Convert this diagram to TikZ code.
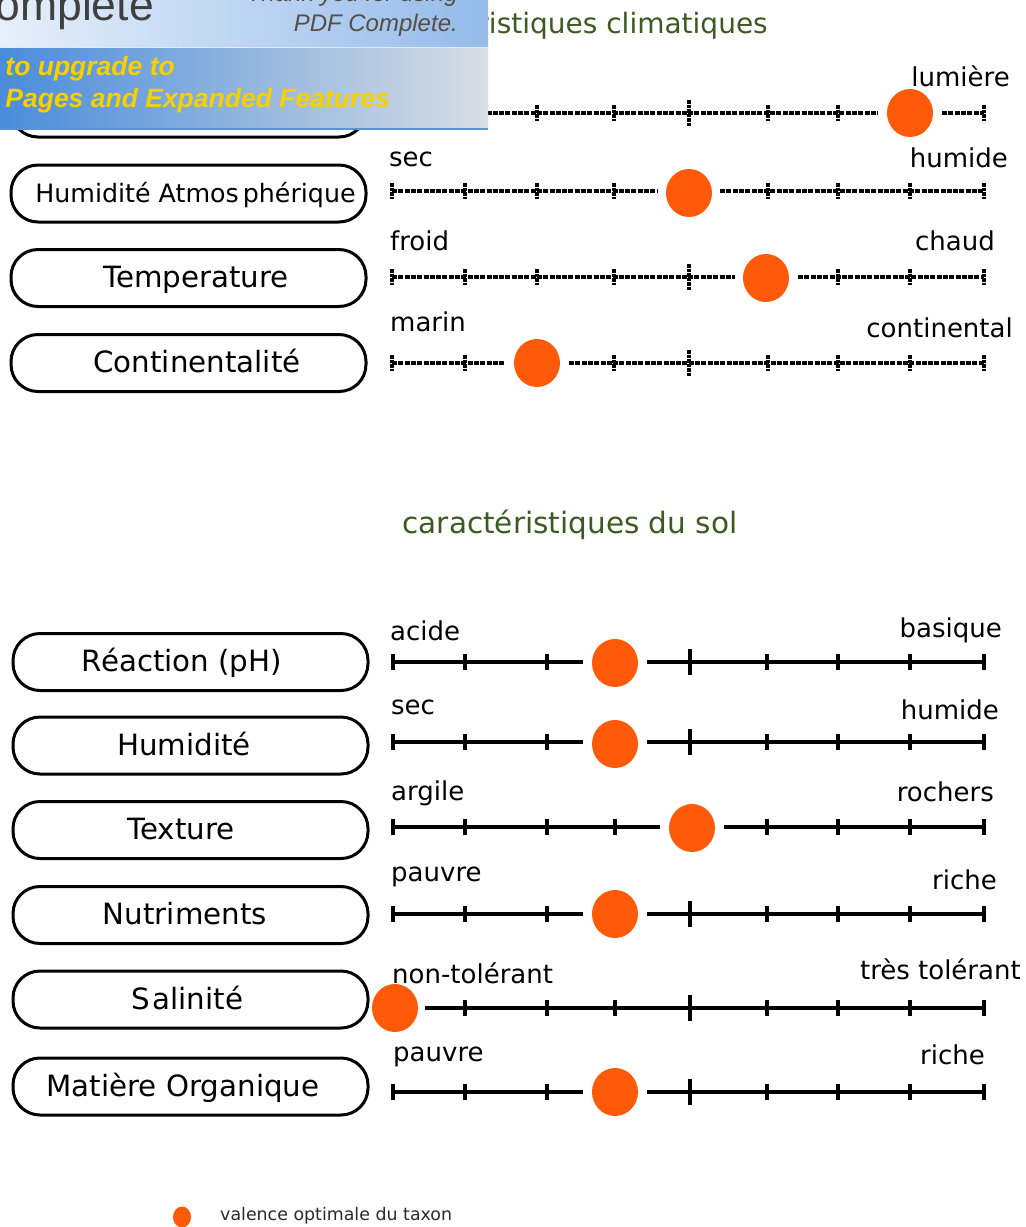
\documentclass[tikz,border=0pt]{standalone}
\usepackage{fontspec}
\setmainfont{DejaVu Sans}
\newfontfamily\bannerfont{Liberation Sans}
\usetikzlibrary{shapes.geometric}
\definecolor{dotorange}{HTML}{FF5A0A}
\definecolor{titlegreen}{HTML}{3D5A22}
\definecolor{bannerTopL}{HTML}{E6EFFA}
\definecolor{bannerTopR}{HTML}{94BBEA}
\definecolor{bannerBotL}{HTML}{4A8CDA}
\definecolor{bannerBotR}{HTML}{D9DEE4}
\definecolor{bannerline}{HTML}{5A93D8}
\definecolor{bannergray}{HTML}{404040}
\definecolor{bannerbrown}{HTML}{574E46}
\definecolor{banneryellow}{HTML}{F8D000}
\definecolor{legendgray}{HTML}{2A2A2A}
\newcommand{\tickrow}[3]{\foreach \tx in {#3} {\draw[#1] (\tx,{#2-8}) -- (\tx,{#2+8});}}
\newcommand{\bigtickat}[3]{\draw[#1] (#3,{#2-13}) -- (#3,{#2+13});}
\begin{document}
\begin{tikzpicture}[x=1pt,y=-1pt,
  catbox/.style={draw=black, line width=3pt, rounded corners=27pt, minimum width=355pt, minimum height=57pt, inner sep=0pt},
  boxtext/.style={font=\fontsize{29.3}{31}\selectfont, inner sep=0pt, anchor=base},
  endlabel/.style={font=\fontsize{26}{28}\selectfont, inner sep=0pt},
  titletext/.style={font=\fontsize{29.5}{31}\selectfont, text=titlegreen, inner sep=0pt, anchor=base},
  valdot/.style={ellipse, fill=dotorange, minimum width=46pt, minimum height=48pt, inner sep=0pt},
  climline/.style={line width=3.2pt, dash pattern=on 5pt off 1.3pt},
  climtick/.style={line width=3.2pt, dash pattern=on 3.5pt off 1pt},
  soilline/.style={line width=3.2pt},
  soiltick/.style={line width=3.2pt},
  legendtext/.style={font=\fontsize{17.4}{19}\selectfont, text=legendgray, inner sep=0pt}
]
\useasboundingbox (0,0) rectangle (1026,1227);
\fill[white] (0,0) rectangle (1026,1227);

% titles
\node[titletext, font=\fontsize{28}{30}\selectfont, anchor=base east] (titleclim) at (768,33) {caractéristiques climatiques};
\node[titletext] (titlesol) at (570,533) {caractéristiques du sol};

% ---------- climate boxes ----------
\node[catbox] (boxlum) at (188.5,108.5) {};
\node[catbox] (boxhum) at (188.5,193.5) {};
\node[boxtext, font=\fontsize{25.3}{27}\selectfont] (thum) at (195.5,202.5) {Humidité Atmos\kern4pt phérique};
\node[catbox] (boxtemp) at (188.5,278) {};
\node[boxtext] (ttemp) at (196,287.5) {Temperature};
\node[catbox] (boxcont) at (188.5,363) {};
\node[boxtext] (tcont) at (197,372.5) {Continentalité};

% ---------- climate scales ----------
% row 1 lumiere
\draw[climline] (392,113) -- (878,113);
\draw[climline] (942,113) -- (984,113);
\tickrow{climtick}{113}{392,465,537,614,768,838,984}
\bigtickat{climtick}{113}{689}
\node[valdot] (dotlum) at (910,113) {};
\node[endlabel, anchor=base east] (llum) at (1010,86) {lumière};
% row 2 humidite atmospherique
\draw[climline] (392,191) -- (658,191);
\draw[climline] (720,191) -- (984,191);
\tickrow{climtick}{191}{392,465,537,614,768,838,910,984}
\node[valdot] (dothum) at (689,193) {};
\node[endlabel, anchor=base west] (lsec1) at (389,166) {sec};
\node[endlabel, anchor=base east] (lhum1) at (1008,167) {humide};
% row 3 temperature
\draw[climline] (392,277) -- (735,277);
\draw[climline] (798,277) -- (984,277);
\tickrow{climtick}{277}{392,465,537,614,838,910,984}
\bigtickat{climtick}{277}{689}
\node[valdot] (dottemp) at (766,278) {};
\node[endlabel, anchor=base west] (lfroid) at (390,250) {froid};
\node[endlabel, anchor=base east] (lchaud) at (995,250) {chaud};
% row 4 continentalite
\draw[climline] (392,363) -- (505,363);
\draw[climline] (569,363) -- (984,363);
\tickrow{climtick}{363}{392,465,614,768,838,910,984}
\bigtickat{climtick}{363}{689}
\node[valdot] (dotcont) at (537,363) {};
\node[endlabel, anchor=base west] (lmarin) at (390,331) {marin};
\node[endlabel, anchor=base east] (lconti) at (1013,337) {continental};

% ---------- soil boxes ----------
\node[catbox] (boxph) at (190.5,662) {};
\node[boxtext] (tph) at (182,671.5) {Réaction (pH)};
\node[catbox] (boxhumsol) at (190.5,745.5) {};
\node[boxtext] (thumsol) at (184,755) {Humidité};
\node[catbox] (boxtext) at (190.5,830) {};
\node[boxtext] (ttext) at (181,839.5) {Texture};
\node[catbox] (boxnut) at (190.5,915) {};
\node[boxtext] (tnut) at (185,924.5) {Nutriments};
\node[catbox] (boxsal) at (190.5,999.5) {};
\node[boxtext] (tsal) at (187.5,1009) {S\kern2pt alinité};
\node[catbox] (boxmo) at (190.5,1086.5) {};
\node[boxtext] (tmo) at (183,1096) {Matière Organique};

% ---------- soil scales ----------
% pH
\draw[soilline] (393,662) -- (583,662);
\draw[soilline] (647,662) -- (984,662);
\tickrow{soiltick}{662}{393,465,547,767,838,910,984}
\bigtickat{soiltick}{662}{690}
\node[valdot] (dotph) at (615,663) {};
\node[endlabel, anchor=base west] (lacide) at (390,640) {acide};
\node[endlabel, anchor=base east] (lbas) at (1002,637) {basique};
% humidite
\draw[soilline] (393,742) -- (583,742);
\draw[soilline] (647,742) -- (984,742);
\tickrow{soiltick}{742}{393,465,547,767,838,910,984}
\bigtickat{soiltick}{742}{690}
\node[valdot] (dothumsol) at (615,744) {};
\node[endlabel, anchor=base west] (lsec2) at (391,714) {sec};
\node[endlabel, anchor=base east] (lhum2) at (999,719) {humide};
% texture
\draw[soilline] (393,827) -- (660,827);
\draw[soilline] (724,827) -- (984,827);
\tickrow{soiltick}{827}{393,465,547,615,767,838,910,984}
\node[valdot] (dottext) at (692,828) {};
\node[endlabel, anchor=base west] (largile) at (391,800) {argile};
\node[endlabel, anchor=base east] (lroch) at (994,801) {rochers};
% nutriments
\draw[soilline] (393,914) -- (583,914);
\draw[soilline] (647,914) -- (984,914);
\tickrow{soiltick}{914}{393,465,547,767,838,910,984}
\bigtickat{soiltick}{914}{690}
\node[valdot] (dotnut) at (615,914) {};
\node[endlabel, anchor=base west] (lpauv1) at (391,881) {pauvre};
\node[endlabel, anchor=base east] (lrich1) at (997,889) {riche};
% salinite
\draw[soilline] (425,1008) -- (984,1008);
\tickrow{soiltick}{1008}{465,547,615,767,838,910,984}
\bigtickat{soiltick}{1008}{690}
\node[valdot] (dotsal) at (395,1008) {};
\node[endlabel, anchor=base west] (lnontol) at (392,983) {non-tolérant};
\node[endlabel, anchor=base east] (ltrestol) at (1021,979) {très tolérant};
% matiere organique
\draw[soilline] (393,1092) -- (583,1092);
\draw[soilline] (647,1092) -- (984,1092);
\tickrow{soiltick}{1092}{393,465,547,767,838,910,984}
\bigtickat{soiltick}{1092}{690}
\node[valdot] (dotmo) at (615,1092) {};
\node[endlabel, anchor=base west] (lpauv2) at (393,1061) {pauvre};
\node[endlabel, anchor=base east] (lrich2) at (985,1064) {riche};

% ---------- legend ----------
\node[valdot, minimum width=18pt, minimum height=21pt] (legdot) at (182,1217) {};
\node[legendtext, anchor=base west] (legtext) at (220,1220) {valence optimale du taxon};

% ---------- watermark banner ----------
\begin{scope}
\clip (0,0) rectangle (488,131);
\shade[left color=bannerTopL, right color=bannerTopR] (0,0) rectangle (488,47);
\shade[left color=bannerBotL, right color=bannerBotR] (0,47) rectangle (488,129);
\draw[white!70!bannerTopR, line width=1pt] (0,47) -- (488,47);
\draw[bannerline, line width=2pt] (0,129) -- (488,129);
\node[anchor=base east, inner sep=0pt, font=\bannerfont\fontsize{44.5}{44}\selectfont, text=bannergray] (wmbig) at (154,20) {Complete};
\node[anchor=base east, inner sep=0pt, font=\bannerfont\itshape\fontsize{24}{24}\selectfont, text=bannerbrown] (wmthank) at (458,1) {Thank you for using};
\node[anchor=base east, inner sep=0pt, font=\bannerfont\itshape\fontsize{24}{24}\selectfont, text=bannerbrown] (wmpdf) at (458,31) {PDF Complete.};
\node[anchor=base east, inner sep=0pt, font=\bannerfont\bfseries\itshape\fontsize{26.5}{28}\selectfont, text=banneryellow] (wmup) at (175,75) {Click Here to upgrade to};
\node[anchor=base east, inner sep=0pt, font=\bannerfont\bfseries\itshape\fontsize{26.5}{28}\selectfont, text=banneryellow] (wmfeat) at (390,107) {Unlimited Pages and Expanded Features};
\end{scope}
\end{tikzpicture}
\end{document}
